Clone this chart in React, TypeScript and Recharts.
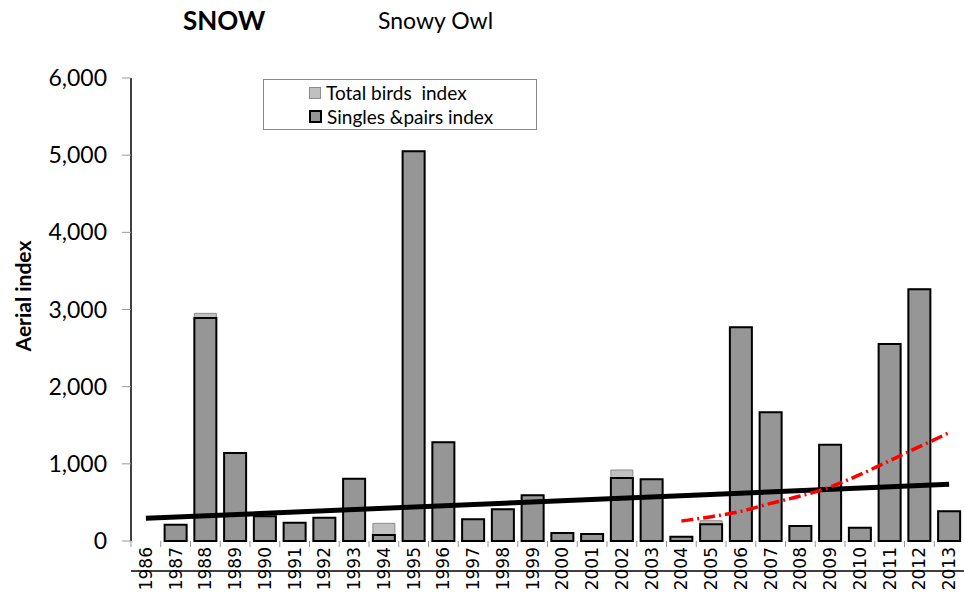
import React from 'react';
import { ComposedChart, Bar, Line, XAxis, YAxis } from 'recharts';

const years = [
  '1986', '1987', '1988', '1989', '1990', '1991', '1992', '1993', '1994', '1995',
  '1996', '1997', '1998', '1999', '2000', '2001', '2002', '2003', '2004', '2005',
  '2006', '2007', '2008', '2009', '2010', '2011', '2012', '2013',
];

const singlesPairs = [
  0, 210, 2890, 1140, 320, 237, 302, 807, 78, 5050,
  1280, 281, 410, 592, 104, 91, 816, 799, 56, 216,
  2770, 1667, 194, 1248, 172, 2552, 3264, 385,
];

const totalBirds = [
  0, 210, 2950, 1140, 320, 237, 302, 807, 229, 5050,
  1280, 281, 410, 592, 104, 91, 920, 799, 56, 263,
  2770, 1667, 194, 1248, 172, 2552, 3264, 385,
];

// linear trend over the whole series (end points only)
const longTrend = [
  294, null, null, null, null, null, null, null, null, null,
  null, null, null, null, null, null, null, null, null, null,
  null, null, null, null, null, null, null, 734,
];

// recent trend from 2004
const recentTrend = [
  null, null, null, null, null, null, null, null, null, null,
  null, null, null, null, null, null, null, null, 259, 315,
  384, 488, 583, 700, 860, 1040, 1222, 1403,
];

const yTicks = [0, 1000, 2000, 3000, 4000, 5000, 6000];

const data = years.map((year, i) => ({
  year,
  singles: singlesPairs[i],
  total: totalBirds[i],
  trend: longTrend[i],
  recent: recentTrend[i],
}));

const W = 964;
const H = 602;
const LEFT = 131;
const X_AXIS_H = 61;
const AXIS_Y = H - X_AXIS_H;
const BAND = (W - LEFT) / years.length;

const YearTick = (props: any) => {
  const { x, payload } = props;
  const bx = x - BAND / 2;
  const ty = AXIS_Y + 6;
  return (
    <g>
      <line x1={bx} x2={bx} y1={AXIS_Y} y2={AXIS_Y + 6} stroke="#999" strokeWidth={1} />
      <text
        x={x}
        y={ty}
        transform={`rotate(-90, ${x}, ${ty})`}
        textAnchor="end"
        dominantBaseline="central"
        fontFamily="DejaVu Sans"
        fontSize={17}
        fill="#000"
      >
        {payload.value}
      </text>
    </g>
  );
};

const fmt = (v: number) => v.toLocaleString('en-US');

export default function App() {
  return (
    <div style={{ position: 'absolute', left: 0, top: 0, width: W, height: H, background: '#fff' }}>
      <ComposedChart
        width={W}
        height={H}
        data={data}
        margin={{ top: 78, right: 0, bottom: 0, left: 0 }}
        barCategoryGap="13%"
      >
        <XAxis
          xAxisId="main"
          dataKey="year"
          height={X_AXIS_H}
          interval={0}
          axisLine={{ stroke: '#000', strokeWidth: 1.5 }}
          tickLine={false}
          tick={<YearTick />}
        />
        <XAxis xAxisId="back" dataKey="year" hide />
        <YAxis
          width={LEFT}
          domain={[0, 6000]}
          ticks={yTicks}
          tickFormatter={fmt}
          axisLine={{ stroke: '#000', strokeWidth: 1.5 }}
          tickLine={{ stroke: '#999' }}
          tickSize={9}
          tickMargin={15}
          tick={{ fill: '#000', fontFamily: 'Lato', fontSize: 23 }}
        />
        <Bar
          xAxisId="back"
          dataKey="total"
          fill="#c0c0c0"
          stroke="#8c8c8c"
          strokeWidth={1}
          isAnimationActive={false}
        />
        <Bar
          xAxisId="main"
          dataKey="singles"
          fill="#969696"
          stroke="#000"
          strokeWidth={2}
          isAnimationActive={false}
        />
        <Line
          xAxisId="main"
          dataKey="trend"
          stroke="#000"
          strokeWidth={5}
          dot={false}
          connectNulls
          isAnimationActive={false}
        />
        <Line
          xAxisId="main"
          type="monotone"
          dataKey="recent"
          stroke="#ff0000"
          strokeWidth={3.5}
          strokeDasharray="12 4 2 4"
          dot={false}
          connectNulls
          isAnimationActive={false}
        />
      </ComposedChart>

      <div style={{ position: 'absolute', left: 183, top: 4, fontFamily: 'Lato', fontWeight: 700, fontSize: 26 }}>
        SNOW
      </div>
      <div style={{ position: 'absolute', left: 378, top: 6, fontFamily: 'Lato', fontSize: 23 }}>
        Snowy Owl
      </div>
      <div
        style={{
          position: 'absolute',
          left: 22,
          top: 296,
          transform: 'translate(-50%, -50%) rotate(-90deg)',
          fontFamily: 'Lato',
          fontWeight: 700,
          fontSize: 21,
          whiteSpace: 'nowrap',
        }}
      >
        Aerial index
      </div>

      <div
        style={{
          position: 'absolute',
          left: 263,
          top: 79,
          width: 274,
          height: 51,
          border: '1px solid #888',
          background: '#fff',
          fontFamily: 'Lato',
          fontSize: 19,
          boxSizing: 'border-box',
        }}
      >
        <div style={{ position: 'absolute', left: 45, top: 1, display: 'flex', alignItems: 'center', whiteSpace: 'pre' }}>
          <span style={{ width: 10, height: 10, background: '#c0c0c0', border: '1px solid #8c8c8c', marginRight: 5 }} />
          {'Total birds  index'}
        </div>
        <div style={{ position: 'absolute', left: 45, top: 25, display: 'flex', alignItems: 'center', whiteSpace: 'pre' }}>
          <span style={{ width: 9, height: 9, background: '#969696', border: '2px solid #000', marginRight: 5 }} />
          {'Singles &pairs index'}
        </div>
      </div>
    </div>
  );
}
